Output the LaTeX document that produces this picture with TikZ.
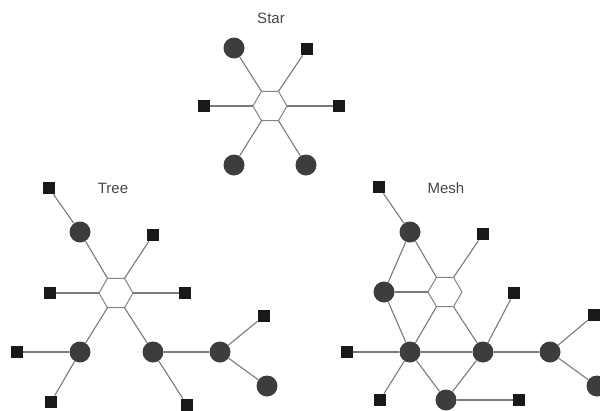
\documentclass[tikz,border=0pt]{standalone}
\usepackage{fontspec}
\setmainfont{Liberation Sans}
\newcommand{\myhex}[3]{%
  \coordinate (#1) at (#2,#3);
  \coordinate (#1-l) at (#2-17,#3);
  \coordinate (#1-r) at (#2+17,#3);
  \coordinate (#1-tl) at (#2-8.5,#3-14.7);
  \coordinate (#1-tr) at (#2+8.5,#3-14.7);
  \coordinate (#1-bl) at (#2-8.5,#3+14.7);
  \coordinate (#1-br) at (#2+8.5,#3+14.7);
  \draw[hub] (#1-l) -- (#1-tl) -- (#1-tr) -- (#1-r) -- (#1-br) -- (#1-bl) -- cycle;}
\begin{document}
\begin{tikzpicture}[x=1pt,y=-1pt,
  link/.style={draw=black!52, line width=1.1pt},
  host/.style={circle, fill=black!76, minimum size=21pt, inner sep=0pt},
  term/.style={rectangle, fill=black!90, minimum size=12.5pt, inner sep=0pt},
  hub/.style={draw=black!48, line width=1pt, fill=white},
  title/.style={font=\fontsize{15}{17}\selectfont, text=black!72}]
\clip (0,0) rectangle (600,410);
\fill[white] (0,0) rectangle (600,410);

% ---------- Star ----------
\node[title] (startitle) at (271,18) {Star};
\myhex{s}{270}{106}
\node[host] (s1) at (234,48) {};
\node[term] (s2) at (307,49) {};
\node[term] (s3) at (204,106) {};
\node[term] (s4) at (339,106) {};
\node[host] (s5) at (234,165) {};
\node[host] (s6) at (306,165) {};
\draw[link] (s1) -- (s-tl);
\draw[link] (s2) -- (s-tr);
\draw[link] (s3) -- (s-l);
\draw[link] (s4) -- (s-r);
\draw[link] (s5) -- (s-bl);
\draw[link] (s6) -- (s-br);

% ---------- Tree ----------
\node[title] (treetitle) at (113,188) {Tree};
\myhex{t}{116}{293}
\node[term] (t1) at (49,188) {};
\node[host] (t2) at (80,232) {};
\node[term] (t3) at (153,235) {};
\node[term] (t4) at (50,293) {};
\node[term] (t5) at (185,293) {};
\node[host] (t6) at (80,352) {};
\node[term] (t7) at (17,352) {};
\node[term] (t8) at (51,402) {};
\node[host] (t9) at (153,352) {};
\node[term] (t10) at (187,405) {};
\node[host] (t11) at (220,352) {};
\node[term] (t12) at (264,316) {};
\node[host] (t13) at (267,386) {};
\draw[link] (t1) -- (t2);
\draw[link] (t2) -- (t-tl);
\draw[link] (t3) -- (t-tr);
\draw[link] (t4) -- (t-l);
\draw[link] (t5) -- (t-r);
\draw[link] (t-bl) -- (t6);
\draw[link] (t6) -- (t7);
\draw[link] (t6) -- (t8);
\draw[link] (t-br) -- (t9);
\draw[link] (t9) -- (t10);
\draw[link] (t9) -- (t11);
\draw[link] (t11) -- (t12);
\draw[link] (t11) -- (t13);

% ---------- Mesh ----------
\node[title] (meshtitle) at (446,188) {Mesh};
\myhex{m}{445}{292}
\node[term] (m1) at (379,187) {};
\node[host] (m2) at (410,232) {};
\node[term] (m3) at (483,234) {};
\node[host] (m4) at (384,292) {};
\node[term] (m5) at (514,293) {};
\node[term] (m6) at (347,352) {};
\node[host] (m7) at (410,352) {};
\node[host] (m8) at (483,352) {};
\node[host] (m9) at (550,352) {};
\node[term] (m10) at (594,315) {};
\node[host] (m11) at (597,386) {};
\node[term] (m12) at (380,400) {};
\node[host] (m13) at (446,400) {};
\node[term] (m14) at (519,400) {};
\draw[link] (m1) -- (m2);
\draw[link] (m2) -- (m-tl);
\draw[link] (m2) -- (m4);
\draw[link] (m4) -- (m-l);
\draw[link] (m4) -- (m7);
\draw[link] (m3) -- (m-tr);
\draw[link] (m-bl) -- (m7);
\draw[link] (m-br) -- (m8);
\draw[link] (m7) -- (m8);
\draw[link] (m5) -- (m8);
\draw[link] (m8) -- (m9);
\draw[link] (m9) -- (m10);
\draw[link] (m9) -- (m11);
\draw[link] (m6) -- (m7);
\draw[link] (m7) -- (m12);
\draw[link] (m7) -- (m13);
\draw[link] (m8) -- (m13);
\draw[link] (m13) -- (m14);
\end{tikzpicture}
\end{document}
